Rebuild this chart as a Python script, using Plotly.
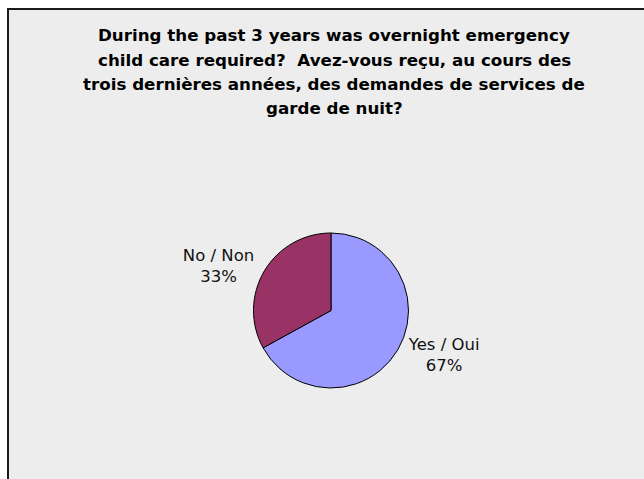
import plotly.graph_objects as go

labels = ["Yes / Oui", "No / Non"]
values = [67, 33]
colors = ["#9999FF", "#993366"]
title_lines = [
    "During the past 3 years was overnight emergency",
    "child care required?  Avez-vous reçu, au cours des",
    "trois dernières années, des demandes de services de",
    "garde de nuit?",
]

W, H = 644, 479
cx, cy, r = 331, 310.5, 77.5

fig = go.Figure()
fig.add_trace(go.Pie(
    labels=labels,
    values=values,
    marker=dict(colors=colors, line=dict(color="black", width=1)),
    sort=False,
    direction="clockwise",
    rotation=0,
    textposition="outside",
    texttemplate="%{label}<br>%{percent:.0%}",
    textfont=dict(family="DejaVu Sans", size=16.5, color="#111111"),
    hoverinfo="skip",
    showlegend=False,
    domain=dict(x=[(cx - r) / W, (cx + r) / W], y=[(H - cy - r) / H, (H - cy + r) / H]),
))

fig.add_shape(type="rect", xref="paper", yref="paper",
              x0=8 / W, x1=1.2, y0=-0.2, y1=1 - 9 / H,
              line=dict(color="#1a1a1a", width=2), fillcolor="#EDEDED", layer="below")

line_gap = 24.5
for i, line in enumerate(title_lines):
    fig.add_annotation(
        text=line,
        xref="paper", yref="paper", x=334 / W, y=1 - (23 + i * line_gap) / H,
        xanchor="center", yanchor="top", showarrow=False, align="center",
        font=dict(family="DejaVu Sans", size=16.7, color="black", weight="bold"),
    )

fig.update_layout(
    width=W, height=H,
    margin=dict(l=0, r=0, t=0, b=0),
    paper_bgcolor="white",
    plot_bgcolor="white",
)

fig.write_html(
    "out.html",
    config={"displayModeBar": False},
    post_script="document.body.style.margin='0';document.body.style.overflow='hidden';",
)
